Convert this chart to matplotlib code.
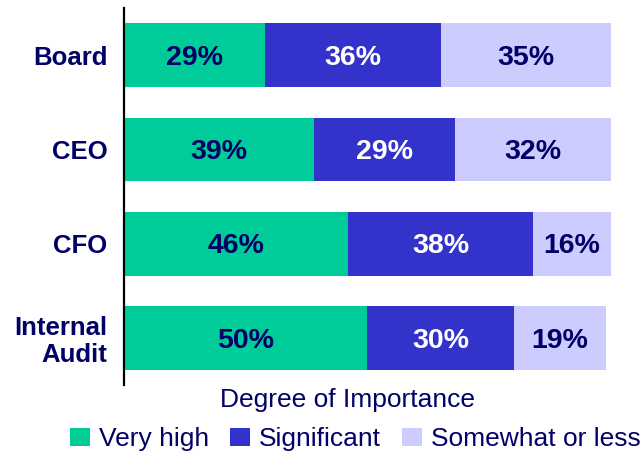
import matplotlib
matplotlib.use("Agg")
import matplotlib.pyplot as plt
import numpy as np

plt.rcParams["font.family"] = ["Liberation Sans", "DejaVu Sans"]

categories = ["Board", "CEO", "CFO", "Internal\nAudit"]
very_high = [29, 39, 46, 50]
significant = [36, 29, 38, 30]
somewhat_or_less = [35, 32, 16, 19]
series_names = ["Very high", "Significant", "Somewhat or less"]

NAVY = "#000066"
colors = ["#00CC99", "#3333CC", "#CCCCFF"]
text_colors = [NAVY, "white", NAVY]

fig = plt.figure(figsize=(6.42, 4.53), dpi=100)
ax = fig.add_axes([0.1931, 0.150, 0.7586, 0.832])

y = np.arange(len(categories))
left = np.zeros(len(categories))
for vals, name, col, tcol in zip([very_high, significant, somewhat_or_less],
                                 series_names, colors, text_colors):
    bars = ax.barh(y, vals, left=left, height=0.675, color=col, label=name)
    # value labels sit in the middle of each segment, nudged down a touch
    for t in ax.bar_label(bars, labels=[f"{v}%" for v in vals], label_type="center",
                          color=tcol, fontsize=20.5, fontweight="bold"):
        t.xyann = (0, -2)
    left += np.array(vals)

ax.set_xlim(0, 100)
ax.set_ylim(3.5, -0.5)
ax.set_yticks(y)
ax.set_yticklabels(categories, fontsize=18.5, fontweight="bold", color=NAVY,
                   linespacing=1.15)
ax.tick_params(axis="y", length=0, pad=12)
ax.set_xticks([])
for s in ["top", "right", "bottom"]:
    ax.spines[s].set_visible(False)
ax.spines["left"].set_linewidth(1.6)
ax.spines["left"].set_color("black")

fig.text(348 / 642, 1 - 400 / 453, "Degree of Importance", ha="center", va="center",
         fontsize=19, color=NAVY)

fig.legend(loc="upper left", bbox_to_anchor=(70 / 642, 1 - 427 / 453), ncol=3,
           frameon=False, fontsize=19, labelcolor=NAVY, handlelength=0.75,
           handleheight=0.65, handletextpad=0.35, columnspacing=0.8,
           borderaxespad=0, borderpad=0)

fig.savefig("out.png", dpi=100)
